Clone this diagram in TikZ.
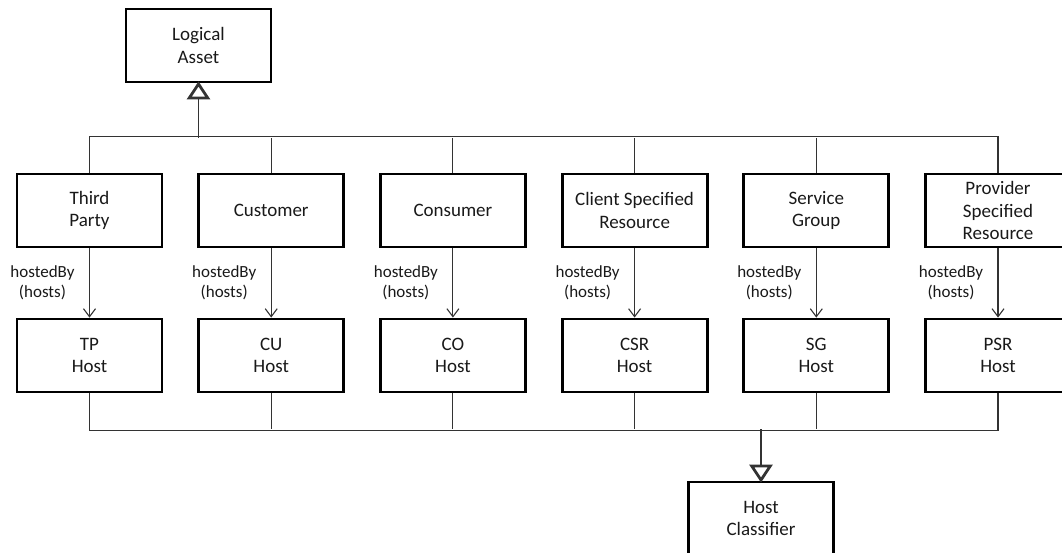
\documentclass[tikz,border=0pt]{standalone}
\usepackage{fontspec}
\setmainfont{Carlito}
\usetikzlibrary{arrows.meta}
\begin{document}
\begin{tikzpicture}[x=1pt,y=-1pt,
  cls/.style={draw=black, line width=2.8pt, minimum width=145pt, minimum height=73pt,
    inner sep=0pt, align=center, font=\fontsize{19}{22.5}\selectfont, text=black!90},
  wire/.style={draw=black!80, line width=1.1pt},
  gen/.style={wire, shorten >=-2pt, -{Triangle[open, length=18pt, width=23pt, line width=2.8pt]}},
  assoc/.style={wire, -{Straight Barb[length=8pt, width=12pt]}},
  role/.style={align=center, font=\fontsize{17}{20}\selectfont, text=black!90, inner sep=0pt}]
\clip (0,0) rectangle (1062,553);
% parent classes
\node[cls] (la) at (198.5,45.5) {Logical\\Asset};
\node[cls] (hc) at (761,518.5) {Host\\Classifier};
\coordinate (topbus) at (198.5,138);
\coordinate (botbus) at (761,429);
% one column per asset kind, each with its host class
\foreach \n/\t/\h [count=\i from 0] in {tp/Third\\Party/TP, cu/Customer/CU, co/Consumer/CO,
    csr/Client Specified\\Resource/CSR, sg/Service\\Group/SG, psr/Provider\\Specified\\Resource/PSR} {
  \pgfmathsetmacro\cx{89.5+181.7*\i}
  \node[cls] (\n) at (\cx,210.5) {\t};
  \node[cls] (\n-h) at (\cx,355.5) {\h\\Host};
  \draw[assoc] (\n) -- (\n-h);
  \node[role] (\n-r) at (\cx-47,283) {hostedBy\\(hosts)};
}
% generalization to Logical Asset
\draw[wire] (tp.north) -- ++(0,-36) -| (psr.north);
\foreach \n in {cu,co,csr,sg} \draw[wire] (\n.north) -- (\n.north |- topbus);
\draw[gen] (topbus) -- (la.south);
% generalization to Host Classifier
\draw[wire] (tp-h.south) -- ++(0,37) -| (psr-h.south);
\foreach \n in {cu,co,csr,sg} \draw[wire] (\n-h.south) -- (\n-h.south |- botbus);
\draw[gen] (botbus) -- (hc.north);
\end{tikzpicture}
\end{document}
